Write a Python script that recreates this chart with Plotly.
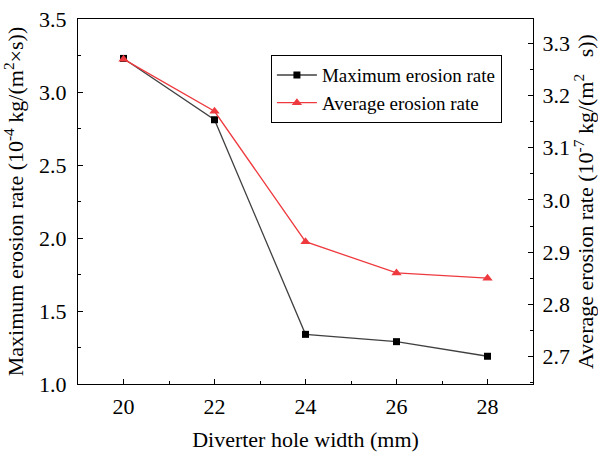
import plotly.graph_objects as go

width_mm = [20, 22, 24, 26, 28]
max_rate = [3.23, 2.81, 1.34, 1.29, 1.19]
avg_rate = [3.27, 3.17, 2.92, 2.86, 2.85]

x_ticks = [20, 22, 24, 26, 28]

font = "Liberation Serif, Times New Roman, serif"

fig = go.Figure()
fig.add_trace(go.Scatter(x=width_mm, y=max_rate, name="Maximum erosion rate",
                         mode="lines+markers",
                         line=dict(color="#404040", width=1.3),
                         marker=dict(symbol="square", size=7, color="black")))
fig.add_trace(go.Scatter(x=width_mm, y=avg_rate, name="Average erosion rate",
                         mode="lines+markers", yaxis="y2",
                         line=dict(color="#ee3a3f", width=1.3),
                         marker=dict(symbol="triangle-up", size=9, color="#ee3a3f")))

axis_common = dict(showline=True, linecolor="black", linewidth=1.3,
                   ticks="inside", ticklen=5, tickcolor="black",
                   showgrid=False, zeroline=False, automargin=False,
                   tickfont=dict(family=font, size=22, color="black"))

fig.update_layout(
    width=598, height=455,
    margin=dict(l=78, r=65, t=19, b=71),
    plot_bgcolor="white", paper_bgcolor="white",
    font=dict(family=font, color="black"),
    xaxis=dict(range=[19, 29], tickvals=x_ticks, mirror=True,
               ticklabelstandoff=2,
               minor=dict(ticks="inside", ticklen=3, dtick=1, tick0=19, tickcolor="black"),
               title=dict(text="Diverter hole width (mm)", font=dict(family=font, size=22), standoff=14),
               **axis_common),
    yaxis=dict(range=[1.0, 3.5], dtick=0.5, tickformat=".1f",
               ticklabelstandoff=6,
               minor=dict(ticks="inside", ticklen=3, dtick=0.25, tickcolor="black"),
               title=dict(text="Maximum erosion rate (10<sup>-4</sup> kg/(m<sup>2</sup>×s))",
                          font=dict(family=font, size=22), standoff=11),
               **axis_common),
    yaxis2=dict(range=[2.647, 3.347], dtick=0.1, tick0=2.7, tickformat=".1f",
                overlaying="y", side="right", ticklabelstandoff=4,
                minor=dict(ticks="inside", ticklen=3, dtick=0.05, tickcolor="black"),
                title=dict(text="Average erosion rate (10<sup>-7</sup> kg/(m<sup>2</sup>   s))",
                           font=dict(family=font, size=22), standoff=7),
                **axis_common),
    legend=dict(x=0.424, y=0.901, xanchor="left", yanchor="top",
                bordercolor="black", borderwidth=1, bgcolor="white",
                font=dict(family=font, size=19), tracegroupgap=0,
                itemwidth=40),
    showlegend=True,
)

fig.write_html("out.html", config={"displayModeBar": False},
               post_script="document.body.style.margin='0';")
